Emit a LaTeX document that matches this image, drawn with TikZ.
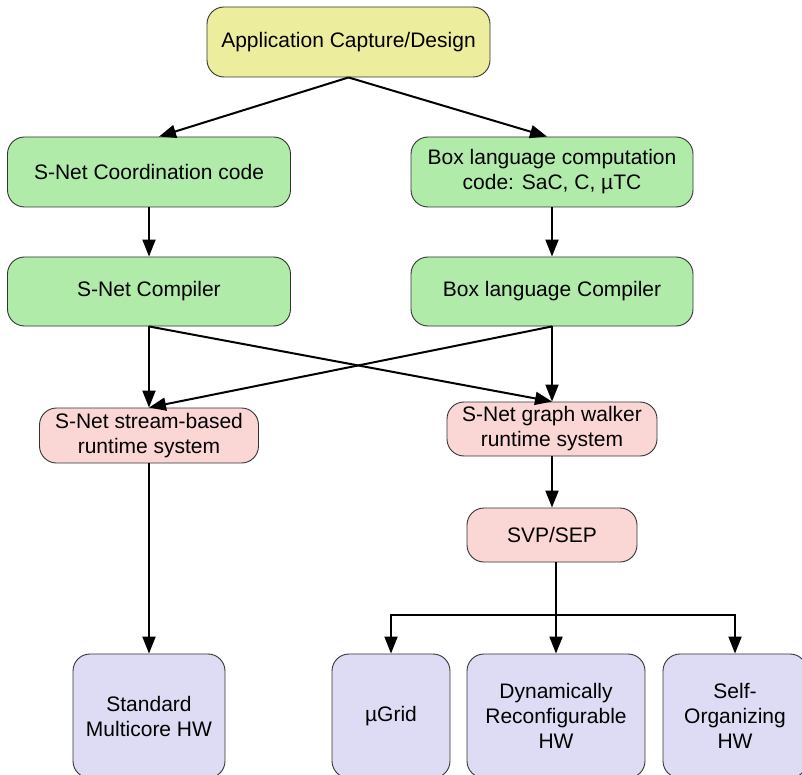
\documentclass[tikz,border=0pt]{standalone}
\usepackage{fontspec}
\setmainfont{Liberation Sans}
\usetikzlibrary{arrows.meta,calc}
\definecolor{cyel}{RGB}{237,237,158}
\definecolor{cgreen}{RGB}{176,235,170}
\definecolor{cpink}{RGB}{250,214,212}
\definecolor{clav}{RGB}{222,220,244}
\begin{document}
\begin{tikzpicture}[x=1pt,y=-1pt,
  box/.style={draw=black!80, line width=0.9pt, rounded corners=17pt, align=center,
    font=\fontsize{21}{25}\selectfont, inner sep=0pt},
  arr/.style={line width=2pt, -{Triangle[length=17pt,width=13pt]}}]
\useasboundingbox (0,0) rectangle (802,775);
\clip (0,0) rectangle (802,775);
% nodes
\node[box, fill=cyel, minimum width=283pt, minimum height=70pt] (app) at (348.5,42) {Application Capture/Design};
\node[box, fill=cgreen, minimum width=283pt, minimum height=70pt] (coord) at (149,172) {S-Net Coordination code};
\node[box, fill=cgreen, minimum width=282pt, minimum height=70pt] (boxcode) at (552,172) {Box language computation\\code: SaC, C, µTC};
\node[box, fill=cgreen, minimum width=283pt, minimum height=69pt] (sncomp) at (149,291.5) {S-Net Compiler};
\node[box, fill=cgreen, minimum width=282pt, minimum height=69pt] (boxcomp) at (552,291.5) {Box language Compiler};
\node[box, fill=cpink, minimum width=219pt, minimum height=55pt] (stream) at (149,435.5) {S-Net stream-based\\runtime system};
\node[box, fill=cpink, minimum width=210pt, minimum height=54pt] (walker) at (552,429) {S-Net graph walker\\runtime system};
\node[box, fill=cpink, minimum width=170pt, minimum height=54pt] (svp) at (552,535) {SVP/SEP};
\node[box, fill=clav, minimum width=152pt, minimum height=124pt] (std) at (149,716) {Standard\\Multicore HW};
\node[box, fill=clav, minimum width=118pt, minimum height=124pt] (ugrid) at (391,716) {µGrid};
\node[box, fill=clav, minimum width=178pt, minimum height=124pt] (dyn) at (556,716) {Dynamically\\Reconfigurable\\HW};
\node[box, fill=clav, minimum width=144pt, minimum height=124pt] (self) at (735,716) {Self-\\Organizing\\HW};
% connectors
\draw[arr] (app.south) -- ([xshift=10pt]coord.north);
\draw[arr] (app.south) -- ([xshift=-5pt]boxcode.north);
\draw[arr] (coord.south) -- (sncomp.north);
\draw[arr] (boxcode.south) -- (boxcomp.north);
\draw[arr] (sncomp.south) -- (stream.north);
\draw[arr] (boxcomp.south) -- (stream.north);
\draw[arr] (sncomp.south) -- (walker.north);
\draw[arr] (boxcomp.south) -- (walker.north);
\draw[arr] (walker.south) -- (svp.north);
\draw[arr] (stream.south) -- (std.north);
\coordinate (br) at (556,615);
\draw[line width=2pt] (svp.south -| br) -- (br);
\draw[arr] (br) -- (dyn.north);
\draw[arr] (br) -| (ugrid.north);
\draw[arr] (br) -| (self.north);
\end{tikzpicture}
\end{document}
